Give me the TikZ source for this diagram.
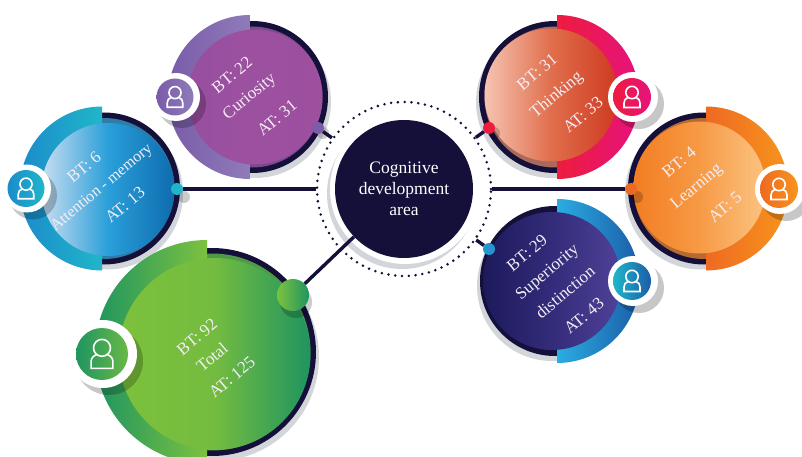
\documentclass[tikz,border=0pt]{standalone}
\usepackage{fontspec}
\setmainfont{Liberation Serif}
\definecolor{navy}{HTML}{15103A}
\definecolor{softgray}{HTML}{D2D6DB}
\definecolor{paleink}{HTML}{F4EEF6}
% purple
\definecolor{puO}{HTML}{7A5CA9}\definecolor{puC}{HTML}{8F7BB9}\definecolor{puA}{HTML}{984FA0}\definecolor{puB}{HTML}{9C50A0}\definecolor{puD}{HTML}{9E4F9E}\definecolor{puS}{HTML}{7B4A8C}
% blue
\definecolor{blO}{HTML}{1C8BCB}\definecolor{blC}{HTML}{20B6C9}\definecolor{blA}{HTML}{C9DEF1}\definecolor{blB}{HTML}{2A9FD9}\definecolor{blD}{HTML}{0E6CAE}\definecolor{blS}{HTML}{2F7CA8}
% green
\definecolor{grO}{HTML}{1F9560}\definecolor{grC}{HTML}{7CC140}\definecolor{grA}{HTML}{7DC13C}\definecolor{grB}{HTML}{74BC40}\definecolor{grD}{HTML}{1F9460}\definecolor{grS}{HTML}{4F9A45}
% red
\definecolor{reO}{HTML}{E5137C}\definecolor{reC}{HTML}{EE1C3E}\definecolor{reA}{HTML}{F6C4B2}\definecolor{reB}{HTML}{E06E4C}\definecolor{reD}{HTML}{CE3A20}\definecolor{reS}{HTML}{A96A5C}
% orange
\definecolor{orO}{HTML}{F7941D}\definecolor{orC}{HTML}{EE6A22}\definecolor{orA}{HTML}{F27D22}\definecolor{orB}{HTML}{F79A45}\definecolor{orD}{HTML}{FBC482}\definecolor{orS}{HTML}{B56A30}
% indigo
\definecolor{inO}{HTML}{1B5DA7}\definecolor{inC}{HTML}{2AADE2}\definecolor{inA}{HTML}{1D1A5C}\definecolor{inB}{HTML}{332C7A}\definecolor{inD}{HTML}{4F4197}\definecolor{inS}{HTML}{1A1648}
\tikzset{
  pinbead/.style={circle,inner sep=0pt,minimum size=#1},
  link/.style={draw=navy,line width=3.4pt},
  label/.style={text=paleink,rotate=40,inner sep=0pt,font=\fontsize{17}{20}\selectfont},
  beadshade/.style={fill=black,opacity=.2},
}
% ring x, ring y, ring r, cut x, band r, inner x, inner y, inner r, colour prefix
\newcommand{\bubbleL}[9]{
  \fill[softgray] (#1+3,#2+5) circle[radius=#3];
  \fill[navy] (#1,#2) circle[radius=#3];
  \fill[#9S] (#1,#2) circle[radius=#3-5.5];
  \path[left color=#9O,right color=#9C] (#4,#2+#5) arc[start angle=90,end angle=270,radius=#5] -- cycle;
  \path[left color=#9A,right color=#9D,middle color=#9B] (#6,#7) circle[radius=#8];
}
\newcommand{\bubbleR}[9]{
  \fill[softgray] (#1-3,#2+5) circle[radius=#3];
  \fill[navy] (#1,#2) circle[radius=#3];
  \fill[#9S] (#1,#2) circle[radius=#3-5.5];
  \path[left color=#9C,right color=#9O] (#4,#2+#5) arc[start angle=90,end angle=-90,radius=#5] -- cycle;
  \path[left color=#9A,right color=#9D,middle color=#9B] (#6,#7) circle[radius=#8];
}
% x, y, white r, colour r, left colour, right colour
\newcommand{\personbadge}[6]{
  \fill[black,opacity=.22] (#1+7,#2+7) circle[radius=#3];
  \fill[white] (#1+1,#2) circle[radius=#3];
  \path[left color=#5,right color=#6] (#1,#2) circle[radius=#4];
  \begin{scope}[shift={(#1,#2)},scale=#4/19]
    \draw[white,line width=1.6pt] (0,-4.5) circle[radius=6.2];
    \draw[white,line width=1.6pt,line join=miter] (-4,0.5) .. controls (-6.5,1.5) and (-8,3) .. (-8,6) -- (-8,10.5) -- (8,10.5) -- (8,6) .. controls (8,3) and (6.5,1.5) .. (4,0.5);
  \end{scope}
}
\begin{document}
\begin{tikzpicture}[x=1pt,y=-1pt]
\useasboundingbox (0,0) rectangle (802,457);
\clip (0,0) rectangle (802,457);
\fill[white] (0,0) rectangle (802,457);

% bubbles
\bubbleL{252}{97}{76}{250}{82}{255}{97}{67.5}{pu}
\bubbleL{104}{188.5}{76}{102}{82}{108}{189.5}{66.5}{bl}
\bubbleL{212}{352}{104}{207}{112}{214.5}{354}{96}{gr}
\bubbleR{555}{97}{76}{557}{82}{551}{95}{66.5}{re}
\bubbleR{704}{188.5}{76}{706}{82}{699.5}{187.5}{66}{or}
\bubbleR{555}{281}{75}{557}{82}{552}{281}{69}{in}

% hub backing
\fill[softgray] (402,194) circle[radius=75];
\fill[white] (405,189) circle[radius=75];
\node[circle,draw=navy,line width=2.8pt,dash pattern=on 0pt off 6.8pt,line cap=round,minimum size=174pt,inner sep=0pt] (ring) at (404,189) {};
\node[circle,fill=navy,text=white,minimum size=138pt,inner sep=0pt,align=center,font=\fontsize{17.5}{21}\selectfont] (hub) at (404,189) {Cognitive\\development\\area};

% bead shadows
\fill[beadshade] (323,133) circle[radius=6];
\fill[beadshade] (184,197) circle[radius=6];
\fill[beadshade] (296,302) circle[radius=16];
\fill[beadshade] (494,133) circle[radius=6];
\fill[beadshade] (637,197) circle[radius=6];

% beads
\node[pinbead=12pt,fill=puO] (bpu) at (318,128) {};
\node[pinbead=12pt,fill=blC] (bbl) at (177,189) {};
\node[pinbead=32pt,left color=grC,right color=grO] (bgr) at (293,295) {};
\node[pinbead=12pt,fill=reC] (bre) at (489,128) {};
\node[pinbead=12pt,fill=orC] (bor) at (631,189) {};
\node[pinbead=12pt,fill=inC!70!inO] (bin) at (489,249) {};

% connectors
\draw[link] (bpu) -- (ring);
\draw[link] (bbl) -- (ring);
\draw[link] (bgr) -- (hub);
\draw[link] (bre) -- (ring);
\draw[link] (bor) -- (ring);
\draw[link] (bin) -- (ring);

% badges
\personbadge{175}{97}{24}{18.5}{puO}{puC}
\personbadge{26}{188.5}{24}{18.5}{blO}{blC}
\personbadge{102}{354}{34}{26}{grO}{grC!80!grO}
\personbadge{632}{97}{25}{19}{reC}{reO}
\personbadge{779}{189}{25}{19}{orC}{orO}
\personbadge{632}{281}{25}{19}{blC}{inO}

% labels
\node[label] (t1a) at (232,75) {BT: 22};
\node[label] (t1b) at (250,97) {Curiosity};
\node[label] (t1c) at (277,118) {AT: 31};
\node[label] (t2a) at (84,167) {BT: 6};
\node[label,font=\fontsize{16}{19}\selectfont] (t2b) at (102,188) {Attention - memory};
\node[label] (t2c) at (125,205) {AT: 13};
\node[label] (t3a) at (197,337) {BT: 92};
\node[label] (t3b) at (212,357) {Total};
\node[label] (t3c) at (232,377) {AT: 125};
\node[label] (t4a) at (537,72) {BT: 31};
\node[label] (t4b) at (557,95) {Thinking};
\node[label] (t4c) at (583,115) {AT: 33};
\node[label] (t5a) at (679,162) {BT: 4};
\node[label] (t5b) at (697,187) {Learning};
\node[label] (t5c) at (725,207) {AT: 5};
\node[label] (t6a) at (527,253) {BT: 29};
\node[label] (t6b) at (548,273) {Superiority};
\node[label] (t6c) at (565,292) {distinction};
\node[label] (t6d) at (584,316) {AT: 43};
\end{tikzpicture}
\end{document}
